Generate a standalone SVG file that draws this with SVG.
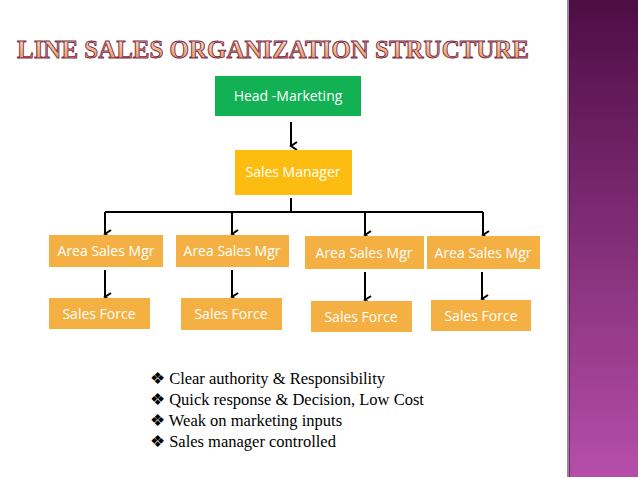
<svg xmlns="http://www.w3.org/2000/svg" width="638" height="479" viewBox="0 0 638 479">
<defs>
<linearGradient id="bar" x1="0" y1="0" x2="0" y2="1"><stop offset="0" stop-color="#4e0d45"/><stop offset="1" stop-color="#b64ea9"/></linearGradient>
<linearGradient id="ttl" x1="0" y1="0" x2="0" y2="1"><stop offset="0" stop-color="#fbe3c8"/><stop offset="1" stop-color="#e88e4a"/></linearGradient>
<marker id="ah" markerWidth="10" markerHeight="10" refX="5" refY="8" orient="auto" markerUnits="userSpaceOnUse" viewBox="0 0 10 10"><path d="M1,2 L5,8 L9,2" fill="none" stroke="#000" stroke-width="2"/></marker>
</defs>
<style>
.o{fill:#f4b042}.t{font-family:"Open Sans","DejaVu Sans",sans-serif;font-size:14px;fill:#fff;text-anchor:middle}
.c{stroke:#000;stroke-width:2;fill:none}
.b{font-family:"Liberation Serif",serif;font-size:16.5px;fill:#000}
</style>
<rect width="638" height="479" fill="#fff"/>
<rect x="569" y="0" width="69" height="477" fill="url(#bar)"/>
<rect x="567" y="0" width="3" height="477" fill="#3a0a33" opacity="0.5"/>
<text x="273" y="58" font-family="Liberation Serif,serif" font-weight="bold" font-size="25" text-anchor="middle" textLength="512" lengthAdjust="spacingAndGlyphs" fill="url(#ttl)" stroke="#7a2a4a" stroke-width="0.9">LINE SALES ORGANIZATION STRUCTURE</text>
<g id="connectors">
<path class="c" d="M291,122 V146" marker-end="url(#ah)"/>
<path class="c" d="M291,198 V212 M105,212 H483"/>
<path class="c" d="M105,212 V234" marker-end="url(#ah)"/>
<path class="c" d="M232,212 V234" marker-end="url(#ah)"/>
<path class="c" d="M365,212 V235" marker-end="url(#ah)"/>
<path class="c" d="M483,212 V235" marker-end="url(#ah)"/>
<path class="c" d="M105,270 V297" marker-end="url(#ah)"/>
<path class="c" d="M232,270 V297" marker-end="url(#ah)"/>
<path class="c" d="M365,272 V300" marker-end="url(#ah)"/>
<path class="c" d="M482,272 V299" marker-end="url(#ah)"/>
</g>
<g id="head"><rect x="215" y="76" width="146" height="40" fill="#12b154"/><text class="t" x="288" y="101">Head -Marketing</text></g>
<g id="sm"><rect x="235" y="150" width="117" height="45" fill="#fdbd10"/><text class="t" x="293" y="177">Sales Manager</text></g>
<g id="asm1"><rect class="o" x="49" y="235" width="114" height="32"/><text class="t" x="106" y="256">Area Sales Mgr</text></g>
<g id="asm2"><rect class="o" x="176" y="235" width="113" height="32"/><text class="t" x="232" y="256">Area Sales Mgr</text></g>
<g id="asm3"><rect class="o" x="305" y="236" width="119" height="33"/><text class="t" x="364" y="258">Area Sales Mgr</text></g>
<g id="asm4"><rect class="o" x="427" y="236" width="113" height="33"/><text class="t" x="483" y="258">Area Sales Mgr</text></g>
<g id="sf1"><rect class="o" x="49" y="298" width="101" height="31"/><text class="t" x="99" y="319">Sales Force</text></g>
<g id="sf2"><rect class="o" x="181" y="298" width="101" height="32"/><text class="t" x="231" y="319">Sales Force</text></g>
<g id="sf3"><rect class="o" x="311" y="301" width="101" height="31"/><text class="t" x="361" y="322">Sales Force</text></g>
<g id="sf4"><rect class="o" x="431" y="300" width="100" height="31"/><text class="t" x="481" y="321">Sales Force</text></g>
<g id="bullets" class="b">
<text x="150" y="384">❖ Clear authority &amp; Responsibility</text>
<text x="150" y="405">❖ Quick response &amp; Decision, Low Cost</text>
<text x="150" y="426">❖ Weak on marketing inputs</text>
<text x="150" y="447">❖ Sales manager controlled</text>
</g>
</svg>
